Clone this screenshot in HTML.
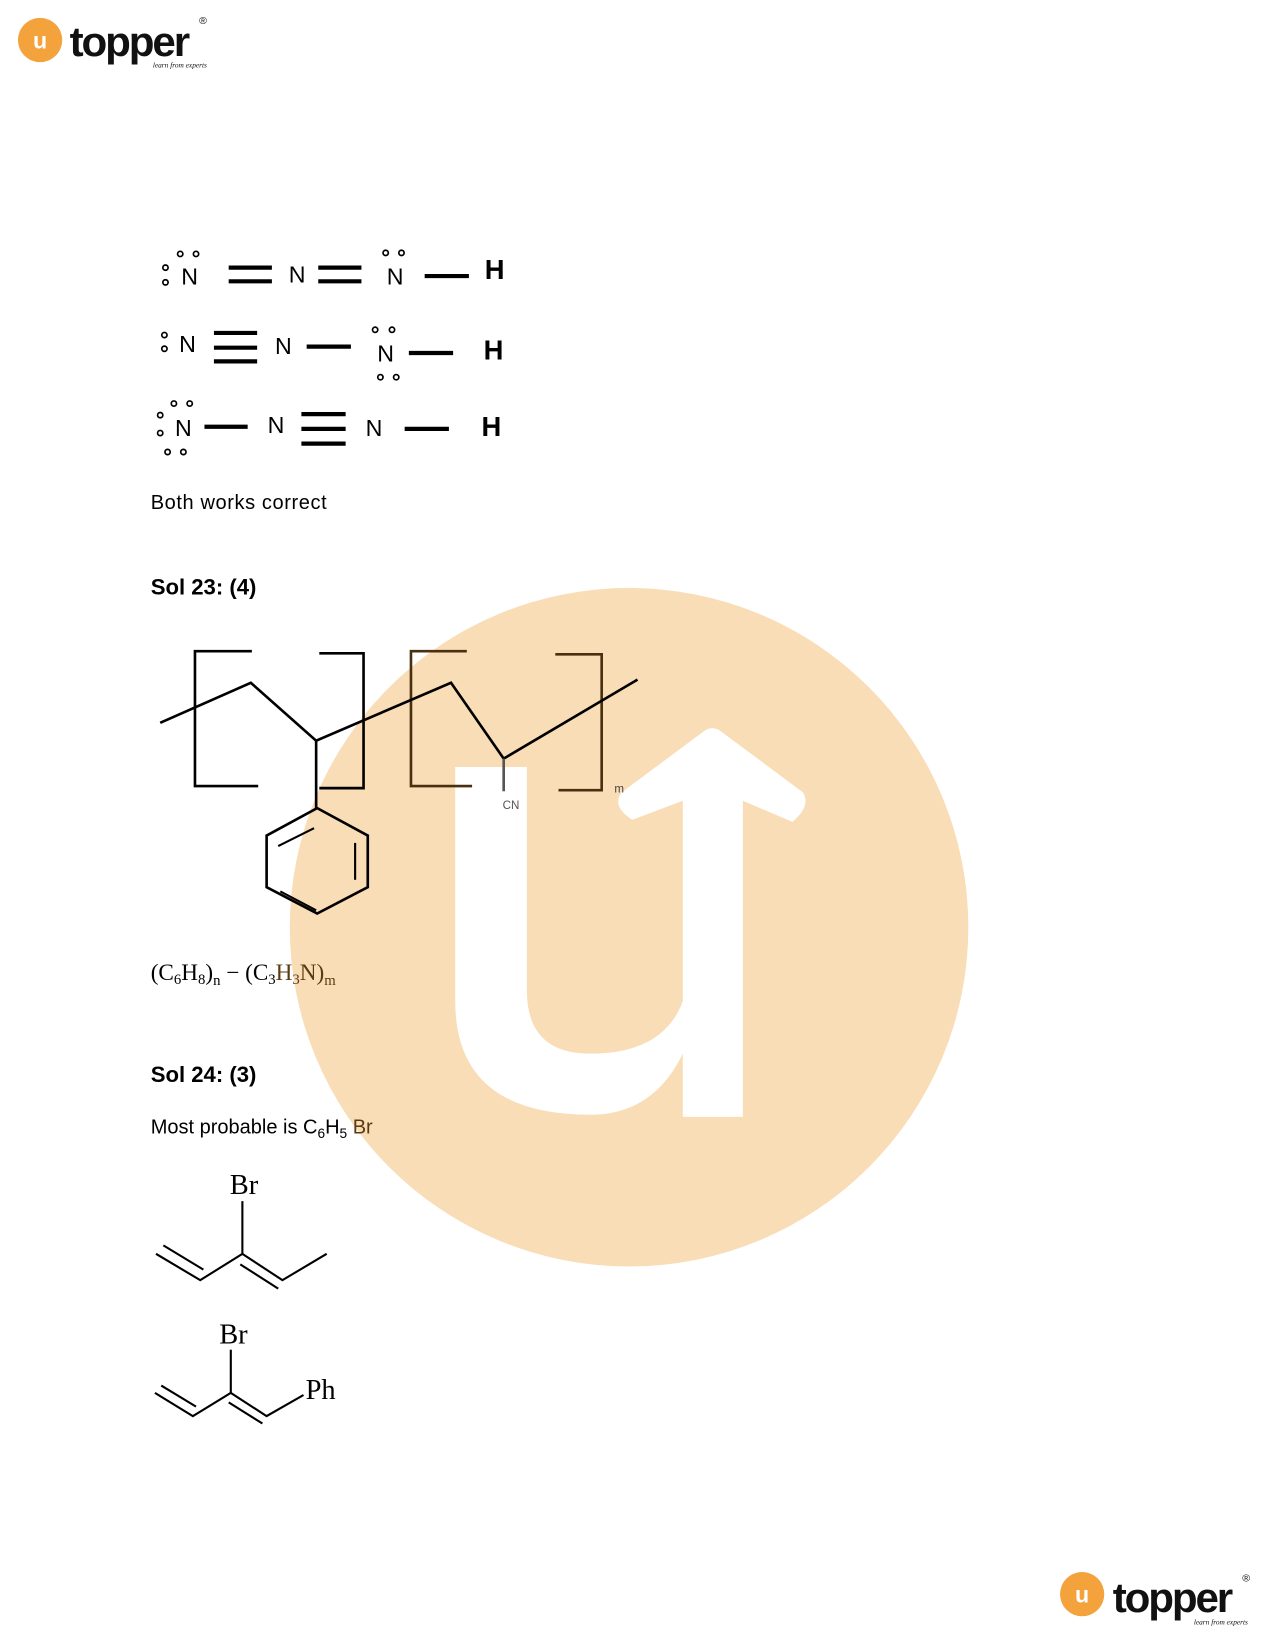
<!DOCTYPE html>
<html><head><meta charset="utf-8"><style>
html,body{margin:0;padding:0;background:#fff}
svg{display:block}
</style></head><body>
<svg width="1275" height="1650" viewBox="0 0 1210 1566" xmlns="http://www.w3.org/2000/svg">
<!-- watermark -->
<circle cx="597" cy="880" r="322" fill="#F9DDB6"/>
<path d="M432 728 H500 V940 Q500 1000 560 1000 Q630 1000 648 950 V760 L600 778 Q580 765 590 752 L668 694 Q676 688 684 694 L762 752 Q770 765 752 780 L705 760 V1060 H648 V1000 Q620 1058 560 1058 Q432 1058 432 950 Z" fill="#fff"/>
<!-- top logo -->
<circle cx="38" cy="38" r="21" fill="#F4A23C"/>
<text x="38" y="46" font-family="Liberation Sans, sans-serif" font-size="22" font-weight="bold" fill="#fff" text-anchor="middle">u</text>
<text x="66" y="53" font-family="Liberation Sans, sans-serif" font-size="40" font-weight="bold" letter-spacing="-2" fill="#111">topper</text>
<text x="189" y="23" font-family="Liberation Sans, sans-serif" font-size="10" fill="#111">®</text>
<text x="145" y="64" font-family="Liberation Serif, serif" font-style="italic" font-size="7" fill="#111">learn from experts</text>
<!-- bottom logo -->
<circle cx="1027" cy="1513" r="21" fill="#F4A23C"/>
<text x="1027" y="1521" font-family="Liberation Sans, sans-serif" font-size="22" font-weight="bold" fill="#fff" text-anchor="middle">u</text>
<text x="1056" y="1530" font-family="Liberation Sans, sans-serif" font-size="40" font-weight="bold" letter-spacing="-2" fill="#111">topper</text>
<text x="1179" y="1501" font-family="Liberation Sans, sans-serif" font-size="10" fill="#111">®</text>
<text x="1133" y="1542" font-family="Liberation Serif, serif" font-style="italic" font-size="7" fill="#111">learn from experts</text>

<g font-family="Liberation Sans, sans-serif" font-size="22" fill="#000">
<g fill="none" stroke="#000" stroke-width="1.6">
<circle cx="157" cy="254" r="2.5"/><circle cx="157" cy="268" r="2.5"/>
<circle cx="171" cy="241" r="2.5"/><circle cx="186" cy="241" r="2.5"/>
<circle cx="366" cy="240" r="2.5"/><circle cx="381" cy="240" r="2.5"/>
<circle cx="156" cy="318" r="2.5"/><circle cx="156" cy="331" r="2.5"/>
<circle cx="356" cy="313" r="2.5"/><circle cx="372" cy="313" r="2.5"/>
<circle cx="361" cy="358" r="2.5"/><circle cx="376" cy="358" r="2.5"/>
<circle cx="152" cy="394" r="2.5"/><circle cx="152" cy="411" r="2.5"/>
<circle cx="165" cy="383" r="2.5"/><circle cx="180" cy="383" r="2.5"/>
<circle cx="159" cy="429" r="2.5"/><circle cx="174" cy="429" r="2.5"/>
</g>
<g stroke="#000" stroke-width="4">
<line x1="217" y1="254" x2="258" y2="254"/><line x1="217" y1="267" x2="258" y2="267"/>
<line x1="302" y1="254" x2="343" y2="254"/><line x1="302" y1="267" x2="343" y2="267"/>
<line x1="403" y1="262" x2="445" y2="262"/>
<line x1="203" y1="316" x2="244" y2="316"/><line x1="203" y1="330" x2="244" y2="330"/><line x1="203" y1="343" x2="244" y2="343"/>
<line x1="291" y1="329" x2="333" y2="329"/>
<line x1="388" y1="335" x2="430" y2="335"/>
<line x1="194" y1="405" x2="235" y2="405"/>
<line x1="286" y1="393" x2="328" y2="393"/><line x1="286" y1="407" x2="328" y2="407"/><line x1="286" y1="421" x2="328" y2="421"/>
<line x1="384" y1="407" x2="426" y2="407"/>
</g>
<text x="172" y="270">N</text><text x="274" y="268">N</text><text x="367" y="270">N</text>
<text x="170" y="334">N</text><text x="261" y="336">N</text><text x="358" y="343">N</text>
<text x="166" y="414">N</text><text x="254" y="411">N</text><text x="347" y="414">N</text>
<g font-weight="bold" font-size="26"><text x="460" y="265">H</text><text x="459" y="341">H</text><text x="457" y="414">H</text></g>
</g>

<g font-family="Liberation Sans, sans-serif" fill="#000">
<text x="143" y="483" font-size="19" textLength="167">Both works correct</text>
<text x="143" y="564" font-size="21" font-weight="bold">Sol 23: (4)</text>
<text x="143" y="1027" font-size="21" font-weight="bold">Sol 24: (3)</text>
<text x="143" y="1076" font-size="19">Most probable is C<tspan font-size="13" dy="4">6</tspan><tspan dy="-4">H</tspan><tspan font-size="13" dy="4">5</tspan><tspan dy="-4" fill="#5a3a10"> Br</tspan></text>
</g>

<!-- polymer -->
<g fill="none" stroke="#000" stroke-width="2.5">
<polyline points="239,618 185,618 185,746 245,746"/>
<polyline points="303,620 345,620 345,748 303,748"/>
<polyline points="443,618 390,618 390,746 448,746" stroke="#4a3010"/>
<polyline points="527,621 571,621 571,750 530,750" stroke="#4a3010"/>
<polyline points="152,686 238,648 300,703 428,648 478,720 605,645"/>
<line x1="300" y1="703" x2="300" y2="767"/>
<polygon points="301,767 349,793 349,842 301,867 253,842 253,793"/>
<line x1="264" y1="803" x2="298" y2="786" stroke-width="2"/>
<line x1="337" y1="800" x2="337" y2="835" stroke-width="2"/>
<line x1="266" y1="846" x2="300" y2="864" stroke-width="2"/>
<line x1="478" y1="720" x2="478" y2="751" stroke="#555"/>
</g>
<text x="477" y="768" font-family="Liberation Sans, sans-serif" font-size="11" fill="#555">CN</text>
<text x="583" y="752" font-family="Liberation Sans, sans-serif" font-size="11" fill="#444">m</text>
<text x="143" y="930" font-family="Liberation Serif, serif" font-size="22" fill="#000">(C<tspan font-size="14" dy="4">6</tspan><tspan dy="-4">H</tspan><tspan font-size="14" dy="4">8</tspan><tspan dy="-4">)</tspan><tspan font-size="14" dy="5">n</tspan><tspan dy="-5"> − (C</tspan><tspan font-size="14" dy="4">3</tspan><tspan dy="-4" fill="#5a3a10">H</tspan><tspan font-size="14" dy="4" fill="#5a3a10">3</tspan><tspan dy="-4" fill="#5a3a10">N)</tspan><tspan font-size="14" dy="5" fill="#5a3a10">m</tspan></text>

<!-- molecules -->
<g font-family="Liberation Serif, serif" font-size="27" fill="#000">
<text x="218" y="1133">Br</text>
<text x="208" y="1275">Br</text>
<text x="290" y="1328">Ph</text>
</g>
<g fill="none" stroke="#000" stroke-width="2">
<line x1="230" y1="1140" x2="230" y2="1190"/>
<polyline points="148,1190 190,1215 230,1190 268,1215 310,1190"/>
<line x1="155" y1="1182" x2="193" y2="1205"/>
<line x1="228" y1="1200" x2="264" y2="1223"/>
<line x1="219" y1="1281" x2="219" y2="1322"/>
<polyline points="147,1322 183,1344 219,1322 253,1344 288,1324"/>
<line x1="153" y1="1315" x2="186" y2="1335"/>
<line x1="217" y1="1331" x2="249" y2="1351"/>
</g>
</svg>
</body></html>
